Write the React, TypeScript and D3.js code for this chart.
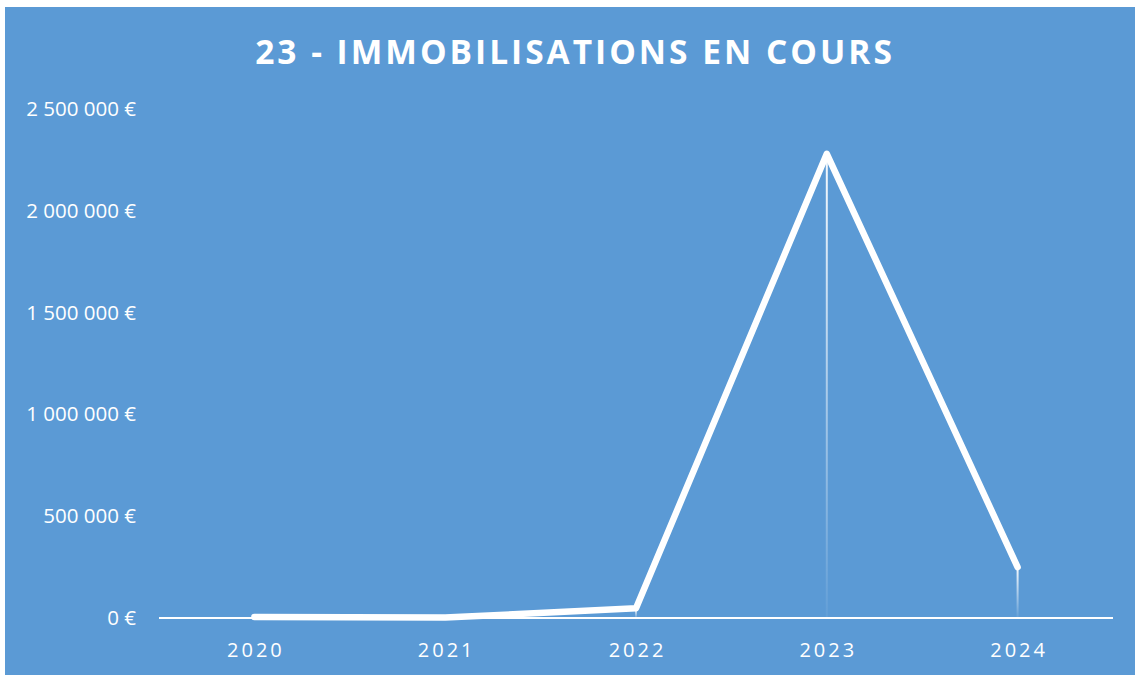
import React from "react";
import * as d3 from "d3";

const categories = ["2020", "2021", "2022", "2023", "2024"];
const values = [5000, 2000, 48000, 2280000, 250000];
const yTicks = [0, 500000, 1000000, 1500000, 2000000, 2500000];
const title = "23 - IMMOBILISATIONS EN COURS";

export default function App() {
  const W = 1135, H = 675;
  const left = 159, right = 1113, top = 109, bottom = 618;
  const x = d3.scaleBand<string>().domain(categories).range([left, right]);
  const y = d3.scaleLinear().domain([0, 2500000]).range([bottom, top]);
  const fmt = (v: number) =>
    (v === 0 ? "0" : d3.format(",")(v).replace(/,/g, " ")) + " €";
  const cx = (c: string) => (x(c) as number) + x.bandwidth() / 2;
  const line = d3
    .line<number>()
    .x((_, i) => cx(categories[i]))
    .y((d) => y(d));
  const font = "'Open Sans', 'Liberation Sans', sans-serif";
  return (
    <svg width={W} height={H} style={{ position: "absolute", left: 0, top: 0 }}>
      <defs>
        <linearGradient id="drop" x1="0" y1="0" x2="0" y2="1">
          <stop offset="0" stopColor="#fff" stopOpacity={0.95} />
          <stop offset="1" stopColor="#fff" stopOpacity={0.05} />
        </linearGradient>
      </defs>
      <rect x={0} y={0} width={W} height={H} fill="#fff" />
      <rect x={5} y={7} width={W - 5} height={H - 7} fill="#5B9AD5" />
      <text
        x={575}
        y={64}
        textAnchor="middle"
        fill="#fff"
        fontFamily={font}
        fontWeight="bold"
        fontSize={33.5}
        letterSpacing={3}
      >
        {title}
      </text>
      {yTicks.map((t) => (
        <text
          key={t}
          x={136}
          y={y(t) + 7}
          textAnchor="end"
          fill="#fff"
          fontFamily={font}
          fontSize={20.5}
        >
          {fmt(t)}
        </text>
      ))}
      {categories.map((c, i) => (
        <rect
          key={"d" + c}
          x={cx(c) - 1}
          y={y(values[i])}
          width={2}
          height={bottom - y(values[i])}
          fill="url(#drop)"
        />
      ))}
      <line x1={left} x2={right} y1={bottom} y2={bottom} stroke="#fff" strokeWidth={2} />
      {categories.map((c) => (
        <text
          key={c}
          x={cx(c) + 1.5}
          y={657}
          textAnchor="middle"
          fill="#fff"
          fontFamily={font}
          fontSize={20}
          letterSpacing={3}
        >
          {c}
        </text>
      ))}
      <path
        d={line(values) as string}
        fill="none"
        stroke="#fff"
        strokeWidth={6.5}
        strokeLinejoin="round"
        strokeLinecap="round"
      />
    </svg>
  );
}
